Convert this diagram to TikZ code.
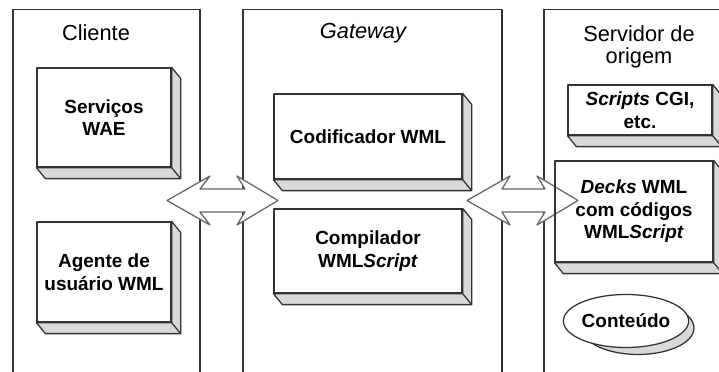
\documentclass[tikz,border=0pt]{standalone}
\usepackage{fontspec}
\setmainfont{Liberation Sans}
\usetikzlibrary{calc,shapes.geometric}

\definecolor{edgegray}{gray}{0.2}
\definecolor{depthgray}{gray}{0.85}
\definecolor{arrowgray}{gray}{0.4}

% side and bottom faces of a raised box
\newcommand{\boxdepth}[1]{%
  \draw[depth] (#1.north east) -- ++(\dx,\dy) -- ($(#1.south east)+(\dx,\dy)$)
    -- ($(#1.south west)+(\dx,\dy)$) -- (#1.south west) -- (#1.south east) -- cycle;
  \draw[depth] (#1.south east) -- ++(\dx,\dy);
}

\begin{document}
\begin{tikzpicture}[x=0.025cm,y=-0.025cm,line join=round,
  column/.style={draw=edgegray,line width=0.9pt},
  box/.style={draw=edgegray,line width=0.9pt,rectangle,align=center,inner sep=0pt,
    font=\fontsize{13.5}{16}\selectfont\bfseries},
  depth/.style={draw=edgegray,line width=0.9pt,fill=depthgray},
  title/.style={align=center,font=\fontsize{15.5}{15.5}\selectfont},
  bigarrow/.style={draw=arrowgray,line width=0.9pt,fill=white}]

% Parameters
\def\u{0.025cm}
\def\dx{9}
\def\dy{11}

\useasboundingbox (0,0) rectangle (719,372);

% Columns
\draw[column] (13,372) -- (13,9.5) -- (200,9.5) -- (200,372);
\draw[column] (243,372) -- (243,9.5) -- (502,9.5) -- (502,372);
\draw[column] (544,372) -- (544,9.5) -- (719,9.5);

% Titles
\node[title] (cliente) at (96,33) {Cliente};
\node[title] (gateway) at (363,33) {\itshape Gateway};
\node[title] (servidor) at (639,47) {Servidor de\\origem};

% Arrows between columns
\draw[bigarrow] (167,200.5) -- (210,176) -- (200,189) -- (245,189) -- (237,176)
  -- (278,200.5) -- (237,225) -- (245,212) -- (200,212) -- (210,225) -- cycle;
\draw[bigarrow] (467,200.5) -- (510,176) -- (502,189) -- (545,189) -- (537,176)
  -- (578,200.5) -- (537,225) -- (545,212) -- (502,212) -- (510,225) -- cycle;

% Cliente
\node[box,minimum width=134*\u,minimum height=99*\u] (servicos) at (104,117.5) {Serviços\\WAE};
\boxdepth{servicos}
\node[box,minimum width=134*\u,minimum height=100*\u] (agente) at (104,272) {Agente de\\usuário WML};
\boxdepth{agente}

% Gateway
\node[box,minimum width=188*\u,minimum height=85*\u] (codificador) at (368,136.5) {Codificador WML};
\boxdepth{codificador}
\node[box,minimum width=188*\u,minimum height=84*\u] (compilador) at (368,251) {Compilador\\WML\textit{Script}};
\boxdepth{compilador}

% Servidor de origem
\node[box,minimum width=144*\u,minimum height=50*\u] (scripts) at (640,110) {\textit{Scripts} CGI,\\etc.};
\boxdepth{scripts}
\node[box,minimum width=158*\u,minimum height=101*\u] (decks) at (634,211.5) {\textit{Decks} WML\\com códigos\\WML\textit{Script}};
\boxdepth{decks}

% Content
\draw[depth] (638,328) ellipse [x radius=56,y radius=26.5];
\node[box,ellipse,fill=white,minimum width=112*\u,minimum height=53*\u] (conteudo) at (626,321) {Conteúdo};

\end{tikzpicture}
\end{document}
